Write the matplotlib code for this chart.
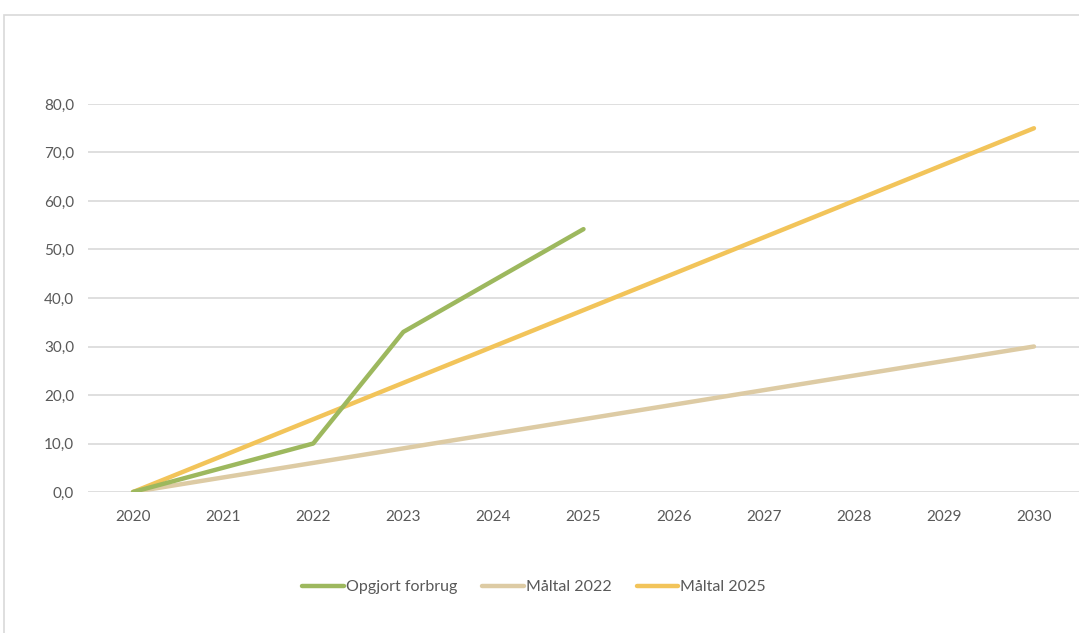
import matplotlib.pyplot as plt
from matplotlib.patches import Rectangle
from matplotlib.ticker import FuncFormatter

years = [2020, 2021, 2022, 2023, 2024, 2025, 2026, 2027, 2028, 2029, 2030]
opgjort_years = [2020, 2021, 2022, 2023, 2024, 2025]
opgjort = [0.0, 5.0, 10.0, 33.0, 43.6, 54.2]
maaltal_2022 = [0.0, 3.0, 6.0, 9.0, 12.0, 15.0, 18.0, 21.0, 24.0, 27.0, 30.0]
maaltal_2025 = [0.0, 7.5, 15.0, 22.5, 30.0, 37.5, 45.0, 52.5, 60.0, 67.5, 75.0]

plt.rcParams['font.family'] = ['Lato', 'DejaVu Sans']
txt = '#595959'

fig = plt.figure(figsize=(10.79, 6.33), dpi=100)
fig.patches.append(Rectangle((4 / 1079, -0.1), 1.2, 1 - 15 / 633 + 0.1,
                             transform=fig.transFigure, fill=False,
                             edgecolor='#D9D9D9', linewidth=1.2))

ax = fig.add_axes([88 / 1079, 141 / 633, 991 / 1079, 388 / 633])
ax.plot(opgjort_years, opgjort, color='#9DB85E', lw=3.2, label='Opgjort forbrug',
        solid_capstyle='round', zorder=3)
ax.plot(years, maaltal_2022, color='#DDCBA4', lw=3.2, label='Måltal 2022',
        solid_capstyle='round', zorder=2)
ax.plot(years, maaltal_2025, color='#F2C45A', lw=3.2, label='Måltal 2025',
        solid_capstyle='round', zorder=2)

ax.set_xlim(2019.5, 2030.5)
ax.set_ylim(0, 80)
ax.set_xticks(years)
ax.set_yticks(range(0, 81, 10))
ax.yaxis.set_major_formatter(FuncFormatter(lambda v, p: f'{v:.1f}'.replace('.', ',')))
ax.grid(axis='y', color='#D9D9D9', lw=1.2)
ax.set_axisbelow(True)
for s in ax.spines.values():
    s.set_visible(False)
ax.tick_params(length=0, labelsize=11, colors=txt)
ax.tick_params(axis='x', pad=13)
ax.tick_params(axis='y', pad=10)

leg = fig.legend(loc='center', bbox_to_anchor=(534 / 1079, 1 - 587 / 633), ncol=3,
                 frameon=False, fontsize=11.5, handlelength=2.6, handletextpad=0.1,
                 columnspacing=1.6)
for t in leg.get_texts():
    t.set_color(txt)

fig.savefig('out.png', dpi=100)
